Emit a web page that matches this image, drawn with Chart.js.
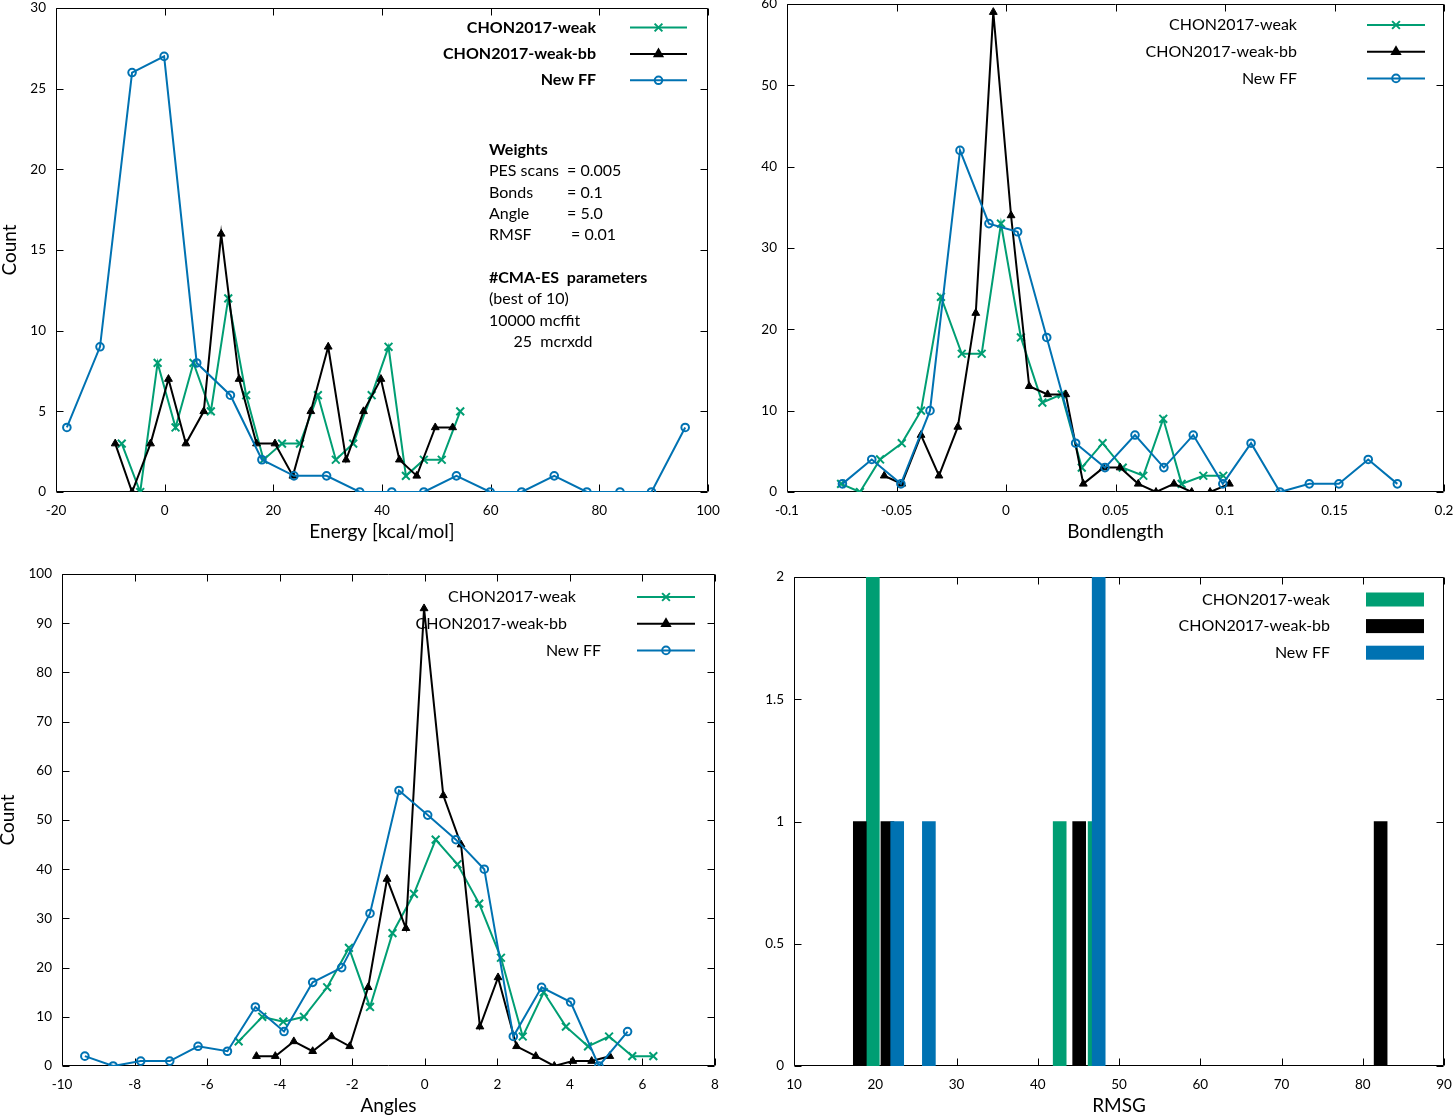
<!DOCTYPE html>
<html>
<head>
<meta charset="utf-8">
<title>Force field comparison</title>
<script src="https://cdn.jsdelivr.net/npm/chart.js@4.4.1/dist/chart.umd.min.js"></script>
<style>
  html, body { margin: 0; padding: 0; background: #fff; }
  #wrap { position: relative; width: 1453px; height: 1117px; }
  #wrap canvas { position: absolute; left: 0; top: 0; }
</style>
</head>
<body>
<div id="wrap">
  <canvas id="energy" width="1453" height="1117"></canvas>
  <canvas id="bond" width="1453" height="1117"></canvas>
  <canvas id="angle" width="1453" height="1117"></canvas>
  <canvas id="rmsg" width="1453" height="1117"></canvas>
</div>
<script>
// series names, same order in all four panels
const SERIES = ['CHON2017-weak', 'CHON2017-weak-bb', 'New FF'];

// energy error histogram (kcal/mol)
const ENERGY_WEAK_X = [-7.9, -4.5, -1.3, 2.0, 5.3, 8.5, 11.7, 15.0, 18.2, 21.6, 24.9, 28.2, 31.5, 34.7, 38.1, 41.2, 44.4, 47.7, 51.0, 54.4];
const ENERGY_WEAK_Y = [3, 0, 8, 4, 8, 5, 12, 6, 2, 3, 3, 6, 2, 3, 6, 9, 1, 2, 2, 5];
const ENERGY_BB_X   = [-9.1, -6.0, -2.6, 0.7, 3.9, 7.2, 10.4, 13.7, 16.9, 20.3, 23.6, 26.9, 30.1, 33.4, 36.6, 39.8, 43.2, 46.4, 49.8, 53.0];
const ENERGY_BB_Y   = [3, 0, 3, 7, 3, 5, 16, 7, 3, 3, 1, 5, 9, 2, 5, 7, 2, 1, 4, 4];
const ENERGY_NEW_X  = [-18.0, -11.9, -6.0, -0.1, 5.9, 12.1, 17.9, 23.8, 29.8, 35.9, 41.8, 47.7, 53.7, 59.9, 65.7, 71.7, 77.7, 83.8, 89.6, 95.8];
const ENERGY_NEW_Y  = [4, 9, 26, 27, 8, 6, 2, 1, 1, 0, 0, 0, 1, 0, 0, 1, 0, 0, 0, 4];

// bond length error histogram
const BOND_WEAK_X = [-0.0753, -0.0667, -0.0575, -0.0476, -0.0388, -0.0297, -0.0202, -0.0111, -0.0023, 0.0068, 0.0166, 0.0254, 0.0346, 0.0441, 0.0533, 0.0627, 0.0718, 0.0802, 0.0901, 0.0992];
const BOND_WEAK_Y = [1, 0, 4, 6, 10, 24, 17, 17, 33, 19, 11, 12, 3, 6, 3, 2, 9, 1, 2, 2];
const BOND_BB_X   = [-0.0556, -0.0476, -0.0388, -0.0306, -0.022, -0.0138, -0.0058, 0.0023, 0.0106, 0.019, 0.0273, 0.0353, 0.0445, 0.0521, 0.0604, 0.0685, 0.0767, 0.0848, 0.0932, 0.102];
const BOND_BB_Y   = [2, 1, 7, 2, 8, 22, 59, 34, 13, 12, 12, 1, 3, 3, 1, 0, 1, 0, 0, 1];
const BOND_NEW_X  = [-0.0747, -0.0613, -0.048, -0.0347, -0.021, -0.0078, 0.0053, 0.0186, 0.0318, 0.0452, 0.0589, 0.0721, 0.0855, 0.099, 0.1119, 0.1251, 0.1385, 0.152, 0.1654, 0.1787];
const BOND_NEW_Y  = [1, 4, 1, 10, 42, 33, 32, 19, 6, 3, 7, 3, 7, 1, 6, 0, 1, 1, 4, 1];

// angle error histogram
const ANGLE_WEAK_X = [-5.13, -4.48, -3.9, -3.33, -2.69, -2.09, -1.51, -0.89, -0.3, 0.3, 0.9, 1.5, 2.1, 2.7, 3.28, 3.89, 4.5, 5.08, 5.72, 6.3];
const ANGLE_WEAK_Y = [5, 10, 9, 10, 16, 24, 12, 27, 35, 46, 41, 33, 22, 6, 15, 8, 4, 6, 2, 2];
const ANGLE_BB_X   = [-4.64, -4.12, -3.61, -3.09, -2.57, -2.07, -1.56, -1.04, -0.52, -0.02, 0.51, 1.0, 1.52, 2.02, 2.53, 3.06, 3.57, 4.08, 4.6, 5.1];
const ANGLE_BB_Y   = [2, 2, 5, 3, 6, 4, 16, 38, 28, 93, 55, 45, 8, 18, 4, 2, 0, 1, 1, 2];
const ANGLE_NEW_X  = [-9.37, -8.59, -7.83, -7.03, -6.25, -5.44, -4.67, -3.88, -3.09, -2.29, -1.51, -0.71, 0.08, 0.86, 1.64, 2.44, 3.22, 4.02, 4.8, 5.59];
const ANGLE_NEW_Y  = [2, 0, 1, 1, 4, 3, 12, 7, 17, 20, 31, 56, 51, 46, 40, 6, 16, 13, 0, 7];

// RMSG histogram (boxes)
const RMSG_WEAK_X = [19.7, 42.7, 47.0];
const RMSG_WEAK_Y = [2, 1, 1];
const RMSG_BB_X   = [18.1, 21.5, 45.1, 82.2];
const RMSG_BB_Y   = [1, 1, 1, 1];
const RMSG_NEW_X  = [22.7, 26.6, 47.5];
const RMSG_NEW_Y  = [1, 1, 2];

// text box in the energy panel
const NOTE_LINES = [
  ['Weights', ''],
  ['PES scans', '= 0.005'],
  ['Bonds', '= 0.1'],
  ['Angle', '= 5.0'],
  ['RMSF', ' = 0.01'],
  ['', ''],
  ['#CMA-ES  parameters', ''],
  ['(best of 10)', ''],
  ['10000 mcffit', ''],
  ['      25  mcrxdd', '']
];
const NOTE_BOLD = ['Weights', '#CMA-ES  parameters'];

const COLORS = ['#009e73', '#000000', '#0072b2'];
const MARKS  = ['crossRot', 'triangle', 'circle'];
const RADII  = [5.5, 4.5, 3.8];
const FONT = 'Lato';

Chart.defaults.font.family = FONT;
Chart.defaults.color = '#000';

const fmt = v => String(+Number(v).toFixed(4));

function markerStyle(k) {
  return { pointStyle: MARKS[k], radius: RADII[k], borderWidth: k === 1 ? 1 : 2, rotation: 0 };
}

// gnuplot style frame with inward ticks on all four sides
const frame = {
  id: 'frame',
  beforeDatasetsDraw(chart) {
    const { ctx, chartArea: a, scales: { x, y } } = chart;
    const t = 7;
    const L = Math.round(a.left) + 0.5, R = Math.round(a.right) - 0.5;
    const T = Math.round(a.top) + 0.5, B = Math.round(a.bottom) - 0.5;
    ctx.save();
    ctx.strokeStyle = '#000';
    ctx.lineWidth = 1;
    ctx.beginPath();
    x.ticks.forEach(tk => {
      const px = Math.round(x.getPixelForValue(tk.value)) + 0.5;
      ctx.moveTo(px, B); ctx.lineTo(px, B - t);
      ctx.moveTo(px, T); ctx.lineTo(px, T + t);
    });
    y.ticks.forEach(tk => {
      const py = Math.round(y.getPixelForValue(tk.value)) + 0.5;
      ctx.moveTo(L, py); ctx.lineTo(L + t, py);
      ctx.moveTo(R, py); ctx.lineTo(R - t, py);
    });
    ctx.rect(L, T, R - L, B - T);
    ctx.stroke();
    ctx.restore();
  }
};

// key: text right aligned, sample to the right of it
const key = {
  id: 'key',
  afterDraw(chart, args, o) {
    const ctx = chart.ctx;
    ctx.save();
    ctx.font = (o.bold ? 'bold ' : '') + '16px ' + FONT;
    ctx.textAlign = 'right';
    ctx.textBaseline = 'middle';
    chart.data.datasets.forEach((ds, i) => {
      const y = o.y0 + i * o.dy;
      const tx = Array.isArray(o.textRight) ? o.textRight[i] : o.textRight;
      ctx.fillStyle = '#000';
      ctx.fillText(ds.label, tx, y);
      if (o.box) {
        ctx.fillStyle = ds.backgroundColor;
        ctx.fillRect(o.x0, y - 7, o.x1 - o.x0, 14);
        return;
      }
      ctx.strokeStyle = ds.borderColor;
      ctx.lineWidth = 2;
      ctx.beginPath();
      ctx.moveTo(o.x0, y); ctx.lineTo(o.x1, y);
      ctx.stroke();
      ctx.fillStyle = ds.pointBackgroundColor;
      Chart.helpers.drawPoint(ctx, markerStyle(i), (o.x0 + o.x1) / 2, y);
    });
    ctx.restore();
  }
};

const note = {
  id: 'note',
  afterDraw(chart, args, o) {
    if (!o.show) return;
    const ctx = chart.ctx;
    ctx.save();
    ctx.fillStyle = '#000';
    ctx.textBaseline = 'middle';
    ctx.textAlign = 'left';
    NOTE_LINES.forEach((ln, i) => {
      const y = o.y0 + i * o.dy;
      ctx.font = (NOTE_BOLD.includes(ln[0]) ? 'bold ' : '') + '16px ' + FONT;
      ctx.fillText(ln[0], o.x, y);
      if (ln[1]) ctx.fillText(ln[1], o.xv, y);
    });
    ctx.restore();
  }
};

function lineSet(k, xs, ys) {
  return {
    label: SERIES[k],
    data: xs.map((x, i) => ({ x, y: ys[i] })),
    borderColor: COLORS[k],
    backgroundColor: COLORS[k],
    borderWidth: 2,
    tension: 0,
    fill: false,
    pointStyle: MARKS[k],
    pointRadius: RADII[k],
    pointBorderWidth: k === 1 ? 1 : 2,
    pointBackgroundColor: k === 2 ? 'rgba(0,0,0,0)' : COLORS[k],
    order: 3 - k
  };
}

function barSet(k, xs, ys) {
  return {
    label: SERIES[k],
    data: xs.map((x, i) => ({ x, y: ys[i] })),
    backgroundColor: COLORS[k],
    borderWidth: 0,
    barThickness: 13,
    grouped: false,
    order: 3 - k
  };
}

// no label overflow padding, so the frame lands exactly where asked
function noPad(s) {
  s.paddingTop = 0; s.paddingBottom = 0;
  s.paddingLeft = 0; s.paddingRight = 0;
}

// area = [left, top, right, bottom] of the plot frame on the page
function makeChart(id, type, datasets, area, ax, keyOpts, noteOpts) {
  const yw = ax.yw, xh = 50;
  const tickFont = { size: 13.5 };
  return new Chart(document.getElementById(id), {
    type,
    data: { datasets },
    plugins: [frame, key, note],
    options: {
      responsive: false,
      animation: false,
      devicePixelRatio: 1,
      events: [],
      layout: {
        autoPadding: false,
        padding: { left: area[0] - yw, top: area[1], right: 1453 - area[2], bottom: 1117 - area[3] - xh }
      },
      plugins: {
        legend: { display: false },
        tooltip: { enabled: false },
        key: keyOpts,
        note: noteOpts || { show: false }
      },
      scales: {
        x: {
          type: 'linear', min: ax.x[0], max: ax.x[1], offset: false,
          ticks: { stepSize: ax.x[2], padding: 10.5, font: tickFont, color: '#000', maxRotation: 0, autoSkip: false, callback: fmt },
          grid: { display: false, drawTicks: false },
          border: { display: false },
          title: { display: true, text: ax.xTitle, font: { size: 19, lineHeight: 1 }, color: '#000', padding: { top: 0, bottom: 0.5 } },
          afterFit: s => { s.height = xh; noPad(s); }
        },
        y: {
          type: 'linear', min: ax.y[0], max: ax.y[1],
          ticks: { stepSize: ax.y[2], padding: 10, font: tickFont, color: '#000', autoSkip: false, callback: fmt },
          grid: { display: false, drawTicks: false },
          border: { display: false },
          title: { display: !!ax.yTitle, text: ax.yTitle || '', font: { size: 19, lineHeight: 1 }, color: '#000', padding: { top: ax.yPad || 0, bottom: 0 } },
          afterFit: s => { s.width = yw; noPad(s); }
        }
      }
    }
  });
}

makeChart('energy', 'line',
  [lineSet(0, ENERGY_WEAK_X, ENERGY_WEAK_Y), lineSet(1, ENERGY_BB_X, ENERGY_BB_Y), lineSet(2, ENERGY_NEW_X, ENERGY_NEW_Y)],
  [56, 8, 708, 492],
  { x: [-20, 100, 20], y: [0, 30, 5], xTitle: 'Energy [kcal/mol]', yTitle: 'Count', yw: 56, yPad: 0.5 },
  { bold: true, textRight: 596, y0: 27.5, dy: 26.4, x0: 630, x1: 687 },
  { show: true, x: 489, xv: 567, y0: 150, dy: 21.3 });

makeChart('bond', 'line',
  [lineSet(0, BOND_WEAK_X, BOND_WEAK_Y), lineSet(1, BOND_BB_X, BOND_BB_Y), lineSet(2, BOND_NEW_X, BOND_NEW_Y)],
  [787, 4, 1444, 492],
  { x: [-0.1, 0.2, 0.05], y: [0, 60, 10], xTitle: 'Bondlength', yw: 60 },
  { bold: false, textRight: 1297, y0: 25, dy: 26.7, x0: 1367, x1: 1425 });

makeChart('angle', 'line',
  [lineSet(0, ANGLE_WEAK_X, ANGLE_WEAK_Y), lineSet(1, ANGLE_BB_X, ANGLE_BB_Y), lineSet(2, ANGLE_NEW_X, ANGLE_NEW_Y)],
  [62, 574, 715, 1066],
  { x: [-10, 8, 2], y: [0, 100, 10], xTitle: 'Angles', yTitle: 'Count', yw: 62, yPad: -1.5 },
  { bold: false, textRight: [576, 567, 601], y0: 597, dy: 26.7, x0: 637, x1: 695 });

makeChart('rmsg', 'bar',
  [barSet(0, RMSG_WEAK_X, RMSG_WEAK_Y), barSet(1, RMSG_BB_X, RMSG_BB_Y), barSet(2, RMSG_NEW_X, RMSG_NEW_Y)],
  [794, 577, 1444, 1066],
  { x: [10, 90, 10], y: [0, 2, 0.5], xTitle: 'RMSG', yw: 60 },
  { bold: false, box: true, textRight: 1330, y0: 599.5, dy: 26.6, x0: 1366, x1: 1424 });
</script>
</body>
</html>
